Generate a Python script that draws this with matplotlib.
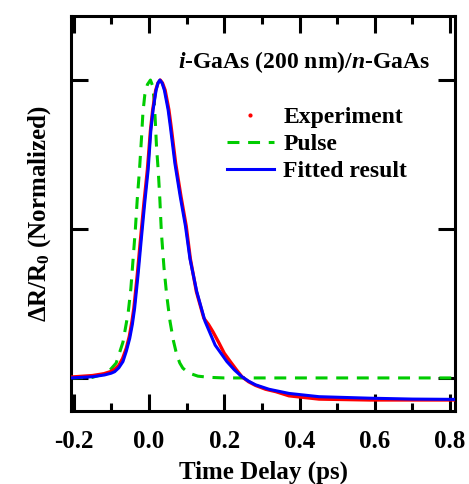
import matplotlib
matplotlib.use("Agg")
import matplotlib.pyplot as plt
from matplotlib.lines import Line2D
from matplotlib.ticker import MultipleLocator, FormatStrFormatter

plt.rcParams['font.family'] = ['Liberation Serif', 'DejaVu Serif']
plt.rcParams['font.weight'] = 'bold'
plt.rcParams['axes.unicode_minus'] = False
plt.rcParams['mathtext.fontset'] = 'custom'
plt.rcParams['mathtext.rm'] = 'Liberation Serif:bold'
plt.rcParams['mathtext.it'] = 'Liberation Serif:bold:italic'
plt.rcParams['mathtext.bf'] = 'Liberation Serif:bold'
plt.rcParams['mathtext.default'] = 'regular'

# ---- data ----
pulse_x = [-0.207, -0.15, -0.11, -0.087, -0.069, -0.055, -0.048, -0.042, -0.036,
           -0.031, -0.025, -0.020, -0.016, -0.011, -0.004, 0.004, 0.010,
           0.014, 0.017, 0.020, 0.025, 0.029, 0.033, 0.040, 0.047, 0.056, 0.065,
           0.074, 0.082, 0.090, 0.105, 0.130, 0.160, 0.200, 0.813]
pulse_y = [0.0, 0.002, 0.017, 0.05, 0.12, 0.22, 0.30, 0.40, 0.50,
           0.60, 0.70, 0.80, 0.89, 0.95, 0.985, 1.0, 0.98,
           0.93, 0.86, 0.78, 0.69, 0.60, 0.49, 0.37, 0.28, 0.19, 0.125,
           0.077, 0.05, 0.033, 0.017, 0.006, 0.002, 0.0, 0.0]

fit_x = [-0.207, -0.15, -0.118, -0.10, -0.091, -0.080, -0.069, -0.060, -0.051,
         -0.044, -0.038, -0.029, -0.020, -0.011, -0.002, 0.005, 0.011, 0.019,
         0.024, 0.029, 0.035, 0.041, 0.051, 0.057, 0.069, 0.083, 0.097, 0.109,
         0.127, 0.149, 0.176, 0.207, 0.227, 0.247, 0.265, 0.283, 0.319, 0.372,
         0.452, 0.586, 0.70, 0.813]
fit_y = [0.0, 0.004, 0.010, 0.016, 0.021, 0.034, 0.055, 0.09, 0.133,
         0.18, 0.234, 0.345, 0.47, 0.59, 0.70, 0.83, 0.90, 0.966,
         0.99, 1.0, 0.99, 0.966, 0.90, 0.843, 0.72, 0.61, 0.51, 0.40,
         0.29, 0.19, 0.11, 0.055, 0.027, 0.004, -0.011, -0.023, -0.038, -0.052,
         -0.063, -0.068, -0.071, -0.072]

exp_x = [-0.207, -0.15, -0.12, -0.10, -0.09, -0.08, -0.07, -0.06, -0.052,
         -0.045, -0.040, -0.031, -0.022, -0.013, -0.004, 0.004, 0.010, 0.018,
         0.024, 0.030, 0.036, 0.043, 0.053, 0.059, 0.071, 0.085, 0.099, 0.110,
         0.126, 0.146, 0.158, 0.170, 0.185, 0.200, 0.216, 0.232, 0.247, 0.265,
         0.283, 0.310, 0.337, 0.372, 0.452, 0.586, 0.70, 0.813]
exp_y = [0.003, 0.008, 0.014, 0.022, 0.030, 0.042, 0.065, 0.10, 0.14,
         0.19, 0.234, 0.345, 0.47, 0.59, 0.70, 0.83, 0.90, 0.966,
         0.99, 1.0, 0.99, 0.966, 0.90, 0.843, 0.72, 0.61, 0.51, 0.40,
         0.29, 0.20, 0.18, 0.155, 0.12, 0.083, 0.055, 0.028, 0.004, -0.013,
         -0.025, -0.038, -0.046, -0.060, -0.071, -0.074, -0.074, -0.074]

labels = ["Experiment", "Pulse", "Fitted result"]
title_text = r"$\it{i}$-GaAs (200 nm)/$\it{n}$-GaAs"
xlabel = "Time Delay (ps)"
ylabel = r"ΔR/R$_0$ (Normalized)"

fig = plt.figure(figsize=(4.69, 4.84), dpi=100)
ax = fig.add_axes([71/469, 1 - 411/484, (455-71)/469, (411-16)/484])

dash = (0, (3.9, 2.85))
ax.plot(pulse_x, pulse_y, color='#00cc00', lw=2.2, ls=dash, zorder=2)
ax.plot(exp_x, exp_y, color='#ff0000', lw=2.4, zorder=3)
ax.plot(fit_x, fit_y, color='#0000ff', lw=2.2, zorder=4)

ax.set_xlim(-0.207, 0.813)
ax.set_ylim(-0.111, 1.215)
ax.xaxis.set_major_locator(MultipleLocator(0.2))
ax.xaxis.set_minor_locator(MultipleLocator(0.1))
ax.xaxis.set_major_formatter(FormatStrFormatter('%.1f'))
ax.yaxis.set_major_locator(MultipleLocator(0.5))
ax.tick_params(axis='both', which='both', direction='in', top=True, right=True, width=2.2)
ax.tick_params(axis='both', which='major', length=12, labelsize=18, pad=14)
ax.tick_params(axis='both', which='minor', length=6)
ax.tick_params(axis='y', labelleft=False)
for s in ax.spines.values():
    s.set_linewidth(2.2)

ax.set_xlabel(xlabel, fontsize=18, fontweight='bold', labelpad=5)
ax.set_ylabel(ylabel, fontsize=18, fontweight='bold', labelpad=13)

ax.text(0.935, 0.8835, title_text, transform=ax.transAxes, fontsize=17,
        fontweight='bold', ha='right', va='center')

handles = [Line2D([], [], color='#ff0000', marker='o', markersize=2, ls='none'),
           Line2D([], [], color='#00cc00', lw=2.2, ls=dash),
           Line2D([], [], color='#0000ff', lw=2.2)]
leg = ax.legend(handles, labels, loc='upper left', bbox_to_anchor=(0.405, 0.77),
                frameon=False, handlelength=2.03, handletextpad=0.38,
                labelspacing=0.22, borderpad=0, borderaxespad=0,
                prop={'weight': 'bold', 'size': 17})

fig.savefig("out.png", dpi=100)
